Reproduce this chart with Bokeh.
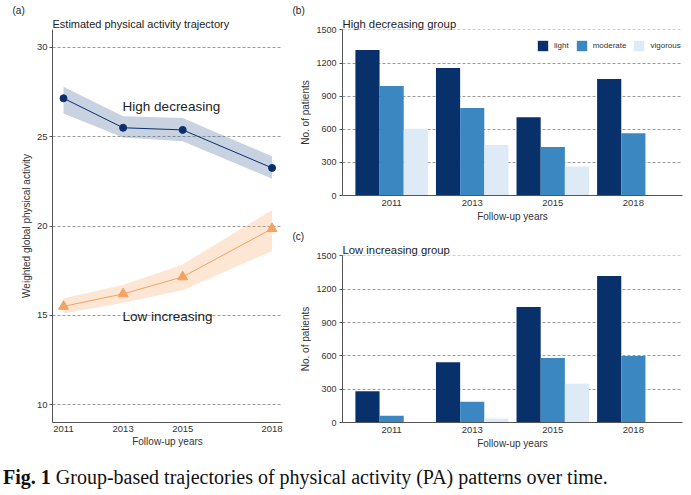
from bokeh.plotting import figure
from bokeh.models import Range1d, FixedTicker, Label, FactorRange, ColumnDataSource, Div, Title
from bokeh.transform import dodge
from bokeh.layouts import row, column
from bokeh.embed import file_html
from bokeh.resources import INLINE

# ---------------- data ----------------
traj_years = [2011, 2013, 2015, 2018]
high_mean = [27.15, 25.5, 25.38, 23.25]
high_lower = [26.3, 24.95, 24.75, 22.65]
high_upper = [27.8, 26.15, 26.05, 23.9]
low_mean = [15.5, 16.2, 17.15, 19.85]
low_lower = [15.1, 15.7, 16.4, 18.6]
low_upper = [15.95, 16.7, 17.85, 20.9]
traj_yticks = [10, 15, 20, 25, 30]

years = ["2011", "2013", "2015", "2018"]
hd_light = [1318, 1155, 708, 1055]
hd_moderate = [993, 793, 440, 565]
hd_vigorous = [605, 458, 262, 0]
li_light = [282, 543, 1041, 1320]
li_moderate = [60, 186, 582, 600]
li_vigorous = [0, 36, 348, 0]
bar_yticks = [0, 300, 600, 900, 1200, 1500]

FONT = "Liberation Sans"
NAVY = "#0b2f6b"
ORANGE = "#f5a263"
C_LIGHT = "#08306b"
C_MOD = "#3a87c1"
C_VIG = "#deebf7"


def style(p, tag, offset):
    p.outline_line_color = None
    p.background_fill_color = "white"
    p.border_fill_color = "white"
    p.axis.axis_line_color = "#555555"
    p.axis.major_tick_line_color = "#555555"
    p.axis.minor_tick_line_color = None
    p.axis.major_tick_in = 0
    p.axis.major_label_text_font = FONT
    p.axis.major_label_text_font_size = "9.5px"
    p.axis.major_label_text_color = "#333333"
    p.axis.axis_label_text_font = FONT
    p.axis.axis_label_text_font_size = "10px"
    p.axis.axis_label_text_font_style = "normal"
    p.axis.axis_label_text_color = "#333333"
    p.xaxis.major_tick_out = 0
    p.yaxis.major_tick_out = 3
    p.xgrid.visible = False
    p.ygrid.grid_line_color = "#9a9a9a"
    p.ygrid.grid_line_dash = "3 2"
    p.ygrid.grid_line_width = 1
    # panel tag as the outer title
    p.title.text = tag
    p.title.text_font = FONT
    p.title.text_font_size = "10px"
    p.title.text_font_style = "normal"
    p.title.text_color = "#222222"
    p.title.align = "left"
    p.title.offset = offset
    p.title.standoff = 0


def subtitle(p, text, size, standoff):
    p.add_layout(Title(text=text, align="left", standoff=standoff,
                       text_font=FONT, text_font_size=size, text_font_style="normal",
                       text_color="#222222"), "above")


# ---------------- panel (a) ----------------
pa = figure(width=290, height=455, output_backend="svg", toolbar_location=None,
            x_range=Range1d(2010.63, 2018.35), y_range=Range1d(9, 31),
            min_border_left=52, min_border_right=8, min_border_top=29, min_border_bottom=33)
style(pa, "(a)", -40)
subtitle(pa, "Estimated physical activity trajectory", "11px", 0)
pa.xaxis.ticker = FixedTicker(ticks=traj_years)
pa.yaxis.ticker = FixedTicker(ticks=traj_yticks)
pa.xaxis.axis_label = "Follow-up years"
pa.yaxis.axis_label = "Weighted global physical activity"
pa.xaxis.major_label_standoff = 3
pa.xaxis.axis_label_standoff = 1
pa.yaxis.major_label_standoff = 2
pa.yaxis.axis_label_standoff = 2

src_h = ColumnDataSource(dict(x=traj_years, m=high_mean, lo=high_lower, hi=high_upper))
src_l = ColumnDataSource(dict(x=traj_years, m=low_mean, lo=low_lower, hi=low_upper))
pa.varea(x="x", y1="lo", y2="hi", source=src_h, fill_color="#4a6a9a", fill_alpha=0.3)
pa.varea(x="x", y1="lo", y2="hi", source=src_l, fill_color="#f79b4f", fill_alpha=0.25)
pa.line(x="x", y="m", source=src_h, line_color=NAVY, line_width=1)
pa.scatter(x="x", y="m", source=src_h, marker="circle", size=7, fill_color=NAVY, line_color=NAVY)
pa.line(x="x", y="m", source=src_l, line_color=ORANGE, line_width=1)
pa.scatter(x="x", y="m", source=src_l, marker="triangle", size=10, fill_color=ORANGE, line_color=ORANGE)
pa.add_layout(Label(x=2014.62, y=26.7, text="High decreasing", text_font=FONT, text_font_size="13.5px",
                    text_color="#222222", text_align="center", text_baseline="middle"))
pa.add_layout(Label(x=2014.49, y=14.95, text="Low increasing", text_font=FONT, text_font_size="13.5px",
                    text_color="#222222", text_align="center", text_baseline="middle"))


# ---------------- bar panels ----------------
def bar_panel(tag, title, light, moderate, vigorous, height, top, bottom, legend):
    p = figure(width=393, height=height, output_backend="svg", toolbar_location=None,
               x_range=FactorRange(factors=years, range_padding=0.11, range_padding_units="absolute"),
               y_range=Range1d(0, 1504),
               min_border_left=52, min_border_right=1, min_border_top=top, min_border_bottom=bottom)
    style(p, tag, -50)
    subtitle(p, title, "11.3px", 0)
    p.yaxis.ticker = FixedTicker(ticks=bar_yticks)
    p.yaxis.major_label_text_font_size = "9px"
    p.xaxis.axis_label = "Follow-up years"
    p.yaxis.axis_label = "No. of patients"
    p.xaxis.major_label_standoff = 4
    p.xaxis.axis_label_standoff = 2
    p.yaxis.major_label_standoff = 3
    p.yaxis.axis_label_standoff = 2
    src = ColumnDataSource(dict(year=years, light=light, moderate=moderate, vigorous=vigorous))
    kw = dict(width=0.3, source=src, line_color=None)
    if legend:
        p.vbar(x=dodge("year", -0.3, range=p.x_range), top="light", fill_color=C_LIGHT, legend_label="light", **kw)
        p.vbar(x=dodge("year", 0.0, range=p.x_range), top="moderate", fill_color=C_MOD, legend_label="moderate", **kw)
        p.vbar(x=dodge("year", 0.3, range=p.x_range), top="vigorous", fill_color=C_VIG, legend_label="vigorous", **kw)
        lg = p.legend[0]
        lg.orientation = "horizontal"
        lg.location = (194, 143)
        lg.padding = 0
        lg.margin = 0
        lg.spacing = 6
        lg.label_standoff = 5
        lg.label_width = 1
        lg.glyph_width = 13
        lg.glyph_height = 13
        lg.label_height = 13
        lg.label_text_font = FONT
        lg.label_text_font_size = "8px"
        lg.label_text_color = "#333333"
        lg.border_line_color = None
        lg.background_fill_alpha = 0
    else:
        p.vbar(x=dodge("year", -0.3, range=p.x_range), top="light", fill_color=C_LIGHT, **kw)
        p.vbar(x=dodge("year", 0.0, range=p.x_range), top="moderate", fill_color=C_MOD, **kw)
        p.vbar(x=dodge("year", 0.3, range=p.x_range), top="vigorous", fill_color=C_VIG, **kw)
    return p


pb = bar_panel("(b)", "High decreasing group", hd_light, hd_moderate, hd_vigorous, 226, 29, 31, True)
pc = bar_panel("(c)", "Low increasing group", li_light, li_moderate, li_vigorous, 229, 29, 33, False)

caption = Div(width=683, height=30,
              text='<div style="padding-top:3px; margin-left:-2px; font-family: \'Liberation Serif\'; '
                   'font-size:20px; color:#111; white-space:nowrap;"><b>Fig. 1</b> Group-based trajectories '
                   'of physical activity (PA) patterns over time.</div>')

layout = column(row(pa, column(pb, pc)), caption)
open("out.html", "w").write(file_html(layout, INLINE))
